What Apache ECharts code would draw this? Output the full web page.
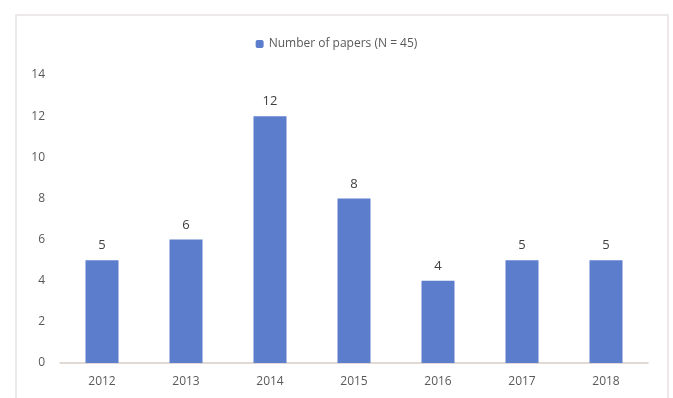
<!DOCTYPE html>
<html>
<head>
	<meta charset="UTF-8">
	<title>Number of papers</title>
	<script src="https://cdn.jsdelivr.net/npm/echarts@6/dist/echarts.min.js"></script>
	<style>
		html, body { margin: 0; padding: 0; background: #fff; }
		#container { width: 673px; height: 398px; }
	</style>
</head>
<body>
	<div id="container"></div>
	<script type="text/javascript">
		// data
		var years = ['2012', '2013', '2014', '2015', '2016', '2017', '2018'];
		var papers = [5, 6, 12, 8, 4, 5, 5];
		var seriesName = 'Number of papers (N = 45)';

		var myChart = echarts.init(document.getElementById('container'));
		var option = {
			animation: false,
			textStyle: { fontFamily: 'Open Sans' },
			// light frame round the chart area
			graphic: [{
				type: 'rect',
				shape: { x: 16, y: 15, width: 652, height: 400 },
				style: { fill: 'none', stroke: '#e8e2e2', lineWidth: 1.5 },
				silent: true
			}],
			legend: {
				top: 33,
				left: 'center',
				itemWidth: 8,
				itemHeight: 8,
				itemGap: 4,
				textStyle: { color: '#595959', fontSize: 12 },
				data: [seriesName]
			},
			grid: { left: 60, right: 25, top: 75, bottom: 35 },
			xAxis: {
				type: 'category',
				data: years,
				axisTick: { show: false },
				axisLine: { lineStyle: { color: '#d6cdc6', width: 1.5 } },
				axisLabel: { color: '#595959', fontSize: 12, margin: 13 }
			},
			yAxis: {
				type: 'value',
				min: 0,
				max: 14,
				interval: 2,
				splitLine: { show: false },
				axisLine: { show: false },
				axisTick: { show: false },
				axisLabel: { color: '#595959', fontSize: 12, margin: 15 }
			},
			series: [{
				name: seriesName,
				type: 'bar',
				barWidth: 33,
				itemStyle: { color: '#5c7dcb' },
				label: {
					show: true,
					position: 'top',
					distance: 8,
					color: '#404040',
					fontSize: 13
				},
				data: papers
			}]
		};
		myChart.setOption(option);
	</script>
</body>
</html>
